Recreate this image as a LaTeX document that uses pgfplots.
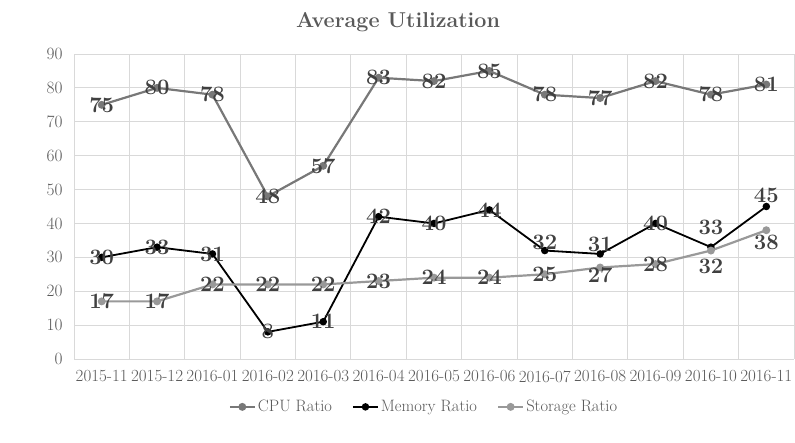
\documentclass[border=0pt]{standalone}
\usepackage{fontspec}
\usepackage{pgfplots}
\usepackage{pgfplotstable}
\pgfplotsset{compat=1.18}
\definecolor{cpu}{HTML}{787878}
\definecolor{mem}{HTML}{000000}
\definecolor{sto}{HTML}{999999}
\definecolor{lbl}{HTML}{404040}
\definecolor{tick}{HTML}{595959}
\definecolor{gridc}{HTML}{D9D9D9}
\pgfplotstableread{
x y dy
0 75 0
1 80 0
2 78 0
3 48 0
4 57 0
5 83 0
6 82 0
7 85 0
8 78 0
9 77 0
10 82 0
11 78 0
12 81 0
}\cpu
\pgfplotstableread{
x y dy
0 30 0
1 33 0
2 31 0
3 8 0
4 11 0
5 42 0
6 40 0
7 44 0
8 32 8
9 31 10
10 40 0
11 33 20
12 45 11
}\mem
\pgfplotstableread{
x y dy
0 17 0
1 17 0
2 22 0
3 22 0
4 22 0
5 23 0
6 24 0
7 24 0
8 25 0
9 27 -8
10 28 0
11 32 -16
12 38 -12
}\sto
\begin{document}
\begin{tikzpicture}[x=1pt,y=1pt]
\useasboundingbox (0,0) rectangle (795,443);
\node[font=\fontsize{21.5}{21.5}\selectfont\bfseries, text=tick] at (398,421) {Average Utilization};
\begin{axis}[
  at={(74pt,84pt)}, anchor=south west,
  scale only axis, width=720pt, height=305pt,
  xmin=-0.5, xmax=12.5, ymin=0, ymax=90,
  ytick={0,10,...,90},
  xtick={0,...,12},
  xticklabels={2015-11,2015-12,2016-01,2016-02,2016-03,2016-04,2016-05,2016-06,2016-07,2016-08,2016-09,2016-10,2016-11},
  minor xtick={-0.5,0.5,...,12.5},
  ymajorgrids, xminorgrids,
  grid style={gridc, line width=0.9pt},
  minor grid style={gridc, line width=0.9pt},
  axis line style={draw=none},
  major tick length=0pt, minor tick length=0pt,
  tick label style={font=\fontsize{17}{17}\selectfont, text=tick},
  xticklabel style={yshift=-8pt, inner xsep=0pt},
  yticklabel style={xshift=-8pt},
  legend style={at={(0.486,-0.157)}, anchor=center, draw=none, fill=none,
    legend columns=3, font=\fontsize{16.5}{16.5}\selectfont, text=tick,
    /tikz/every even column/.append style={column sep=18pt}},
  legend image code/.code={\draw[#1] (0pt,0pt) -- (25pt,0pt); \draw[#1, mark repeat=1, mark phase=1] plot coordinates {(12.5pt,0pt)};},
  nodes near coords,
  point meta=explicit symbolic,
  visualization depends on={\thisrow{dy} \as \dy},
  every node near coord/.append style={anchor=center, yshift=\dy pt,
    font=\fontsize{22}{22}\selectfont\bfseries, text=lbl, inner sep=0pt},
  clip=false,
]
\addplot[cpu, line width=2.2pt, mark=*, mark size=2.8pt, mark options={fill=cpu, draw=cpu}] table[x=x, y=y, meta=y] {\cpu};
\addlegendentry{CPU Ratio}
\addplot[mem, line width=1.8pt, mark=*, mark size=2.8pt, mark options={fill=mem, draw=mem}] table[x=x, y=y, meta=y] {\mem};
\addlegendentry{Memory Ratio}
\addplot[sto, line width=2.2pt, mark=*, mark size=2.8pt, mark options={fill=sto, draw=sto}] table[x=x, y=y, meta=y] {\sto};
\addlegendentry{Storage Ratio}
\end{axis}
\end{tikzpicture}
\end{document}
